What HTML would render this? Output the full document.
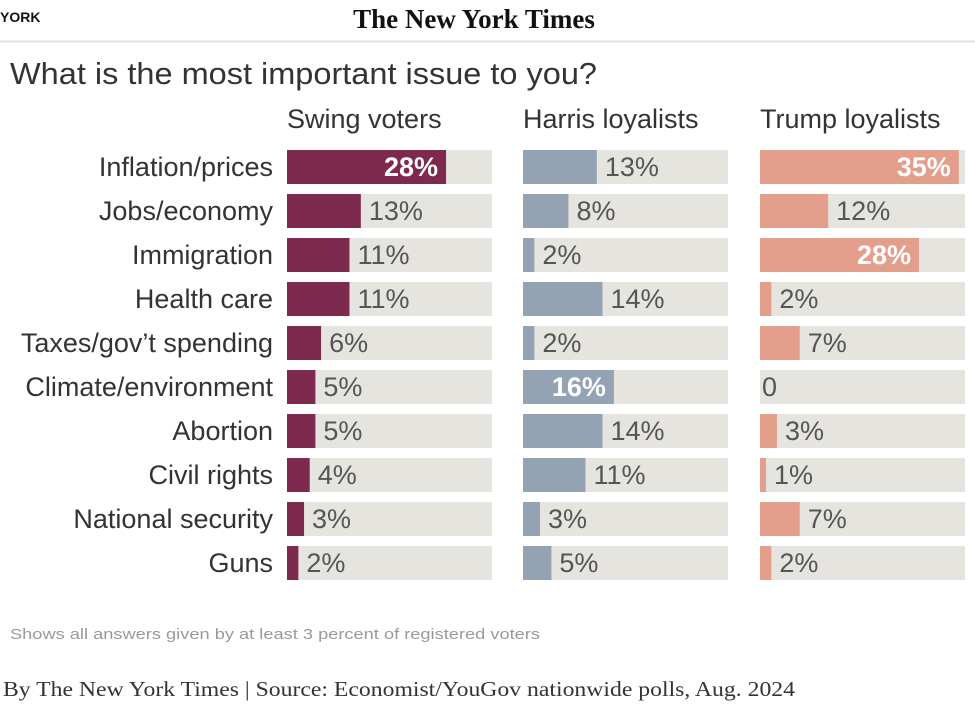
<!DOCTYPE html>
<html><head><meta charset="utf-8"><style>
body{margin:0;width:975px;height:710px;background:#fff;overflow:hidden;font-family:"Liberation Sans Narrow","Liberation Sans",sans-serif;}
#c{position:absolute;left:0;top:0}
</style></head><body>
<svg id="c" width="975" height="710">
<text x="0" y="22" font-family="Liberation Sans" font-weight="bold" font-size="14" fill="#111">YORK</text>
<text x="474" y="28" text-anchor="middle" font-family="Liberation Serif" font-weight="bold" font-size="27" fill="#111">The New York Times</text>
<line x1="0" y1="41.5" x2="975" y2="41.5" stroke="#e2e2e2" stroke-width="2"/>
<text x="10" y="84" font-size="31" fill="#333" textLength="587" lengthAdjust="spacingAndGlyphs">What is the most important issue to you?</text>
<g id="g"></g>
<text x="10" y="639" font-family="Liberation Sans" font-size="15" fill="#999" textLength="530" lengthAdjust="spacingAndGlyphs">Shows all answers given by at least 3 percent of registered voters</text>
<text x="3" y="696" font-family="Liberation Serif" font-size="21" fill="#333" textLength="792" lengthAdjust="spacingAndGlyphs">By The New York Times | Source: Economist/YouGov nationwide polls, Aug. 2024</text>
</svg>
<script>
const categories=["Inflation/prices","Jobs/economy","Immigration","Health care","Taxes/gov’t spending","Climate/environment","Abortion","Civil rights","National security","Guns"];
const groups=["Swing voters","Harris loyalists","Trump loyalists"];
const swing=[28,13,11,11,6,5,5,4,3,2];
const harris=[13,8,2,14,2,16,14,11,3,5];
const trump=[35,12,28,2,7,0,3,1,7,2];
const series=[swing,harris,trump];
const colors=["#7d2a4e","#93a3b3","#e39f8b"];
const NS="http://www.w3.org/2000/svg";
const g=document.getElementById('g');
const colX=[287,523,760], bgW=205, pxPer=5.68, rowTop=150, pitch=44, barH=34;
const x=(v)=>v*pxPer;
const y=(i)=>rowTop+i*pitch;
function el(t,a){const e=document.createElementNS(NS,t);for(const k in a)e.setAttribute(k,a[k]);g.appendChild(e);return e;}
groups.forEach((n,j)=>{
  const t=el('text',{x:colX[j],y:128,'font-size':27,fill:'#333'});t.textContent=n;
  
  
});
categories.forEach((c,i)=>{
  const t=el('text',{x:273,y:y(i)+barH/2+9,'text-anchor':'end','font-size':27,fill:'#333'});t.textContent=c;
  
  
  series.forEach((s,j)=>{
    const bg=el('rect',{x:colX[j],y:y(i),width:bgW,height:barH,fill:'#e6e4df'});
    
    
    const v=s[i];
    const w=v>0?Math.max(x(v),6):0;
    const b=el('rect',{x:colX[j],y:y(i),width:w,height:barH,fill:colors[j]});
    
    
    const lab=v===0?'0':v+'%';
    let l;
    if(v>=16){l=el('text',{x:colX[j]+w-8,y:y(i)+barH/2+9,'text-anchor':'end','font-size':27,'font-weight':'bold',fill:'#fff'});}
    else{l=el('text',{x:colX[j]+w+(v===0?2:8),y:y(i)+barH/2+9,'font-size':27,fill:'#555'});}
    l.textContent=lab;
    
    
  });
});
</script>
</body></html>
